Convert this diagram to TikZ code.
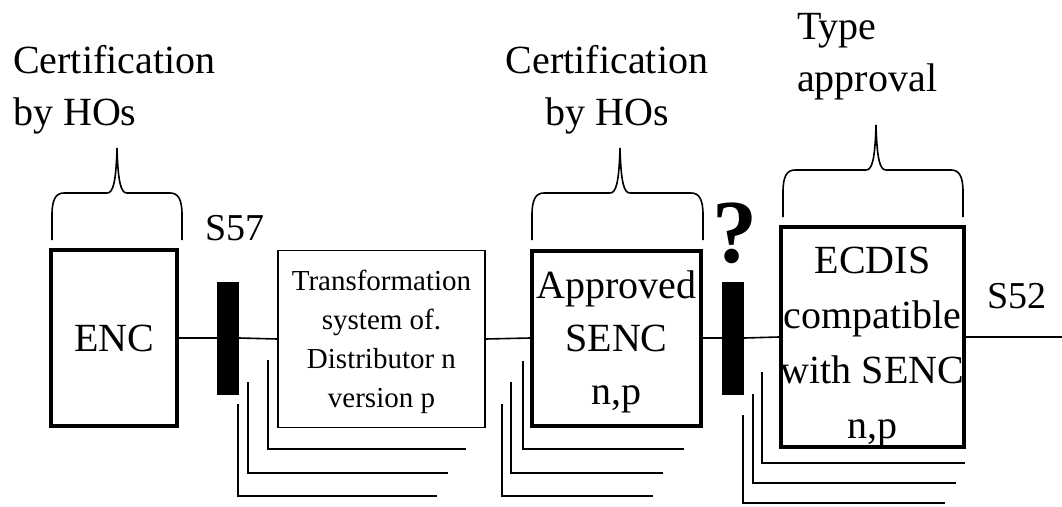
\documentclass[tikz,border=0pt]{standalone}
\usepackage{fontspec}
\setmainfont{Liberation Serif}
\newcommand\hobrace[6]{% left x, right x, tip x, bar y, tip y, bottom y
  \draw[wire] (#1,#6) -- (#1,#4+22) .. controls (#1,#4+6) and (#1+4,#4) .. (#1+12,#4)
    -- (#3-10,#4) .. controls (#3-4,#4) and (#3-1,#4-10) .. (#3,#5)
    .. controls (#3+1,#4-10) and (#3+4,#4) .. (#3+10,#4)
    -- (#2-12,#4) .. controls (#2-4,#4) and (#2,#4+6) .. (#2,#4+22) -- (#2,#6);}
\begin{document}
\begin{tikzpicture}[x=1pt,y=-1pt,
  wire/.style={line width=1.6pt, line cap=butt},
  thickbox/.style={draw, line width=4pt, inner sep=0pt, align=center,
    font=\fontsize{40}{53}\selectfont},
  thinbox/.style={draw, line width=1.8pt, inner sep=0pt, align=center,
    font=\fontsize{29}{39}\selectfont},
  barbox/.style={fill=black, minimum width=22pt, minimum height=113pt, inner sep=0pt},
  lbl/.style={inner sep=0pt, font=\fontsize{40}{52}\selectfont},
  side/.style={inner sep=0pt, font=\fontsize{38}{46}\selectfont, anchor=base west}]
\useasboundingbox (0,0) rectangle (1062,506);
\fill[white] (0,0) rectangle (1062,506);

% boxes
\node[thickbox, minimum width=126pt, minimum height=176pt] (enc) at (114,338) {ENC};
\node[barbox] (bar1) at (228,338) {};
\node[thinbox, minimum width=207pt, minimum height=177pt] (trans) at (381.5,339)
  {\rule{0pt}{26pt}Transformation\\system of.\\Distributor n\\version p};
\node[thickbox, minimum width=169pt, minimum height=175pt] (senc) at (616.5,338)
  {\rule{0pt}{35pt}Approved\\SENC\\n,p};
\node[barbox] (bar2) at (733,338) {};
\node[thickbox, minimum width=179pt, minimum height=219pt, font=\fontsize{40}{55}\selectfont] (ecdis) at (872.5,337)
  {\rule{0pt}{46pt}ECDIS\\compatible\\with SENC\\n,p};
\coordinate (end) at (1062,337);

% main line
\draw[wire] (enc.east) -- (bar1.west);
\draw[wire] (bar1.east) -- (trans.west);
\draw[wire] (trans.east) -- (senc.west);
\draw[wire] (senc.east) -- (bar2.west);
\draw[wire] (bar2.east) -- (ecdis.west);
\draw[wire] (ecdis.east) -- (end);

% labels
\node[lbl, anchor=north west, align=left] (cert1) at (13,45) {Certification\\by HOs};
\node[lbl, anchor=north, align=center] (cert2) at (607,45) {Certification\\by HOs};
\node[lbl, anchor=north west, align=left] (type) at (797,13) {Type\\approval};
\node[side] (s57) at (205,240) {S57};
\node[side] (s52) at (987,308) {S52};
\node[inner sep=0pt, anchor=base, font=\fontsize{90}{90}\selectfont\bfseries] (q) at (735,262) {?};

% braces
\hobrace{52}{182}{117}{193}{148}{240}
\hobrace{532}{703}{620}{193}{148}{240}
\hobrace{783}{963}{876}{170}{125}{217}

% return lines under transformation box
\draw[wire] (268,360) -- (268,449) -- (466,449);
\draw[wire] (248,382) -- (248,473) -- (448,473);
\draw[wire] (238,404) -- (238,496) -- (437,496);
% under SENC box
\draw[wire] (523,361) -- (523,449) -- (684,449);
\draw[wire] (511,382) -- (511,473) -- (663,473);
\draw[wire] (502,404) -- (502,496) -- (653,496);
% under ECDIS box
\draw[wire] (762,372) -- (762,463) -- (965,463);
\draw[wire] (753,394) -- (753,483) -- (956,483);
\draw[wire] (743,415) -- (743,503) -- (945,503);
\end{tikzpicture}
\end{document}
